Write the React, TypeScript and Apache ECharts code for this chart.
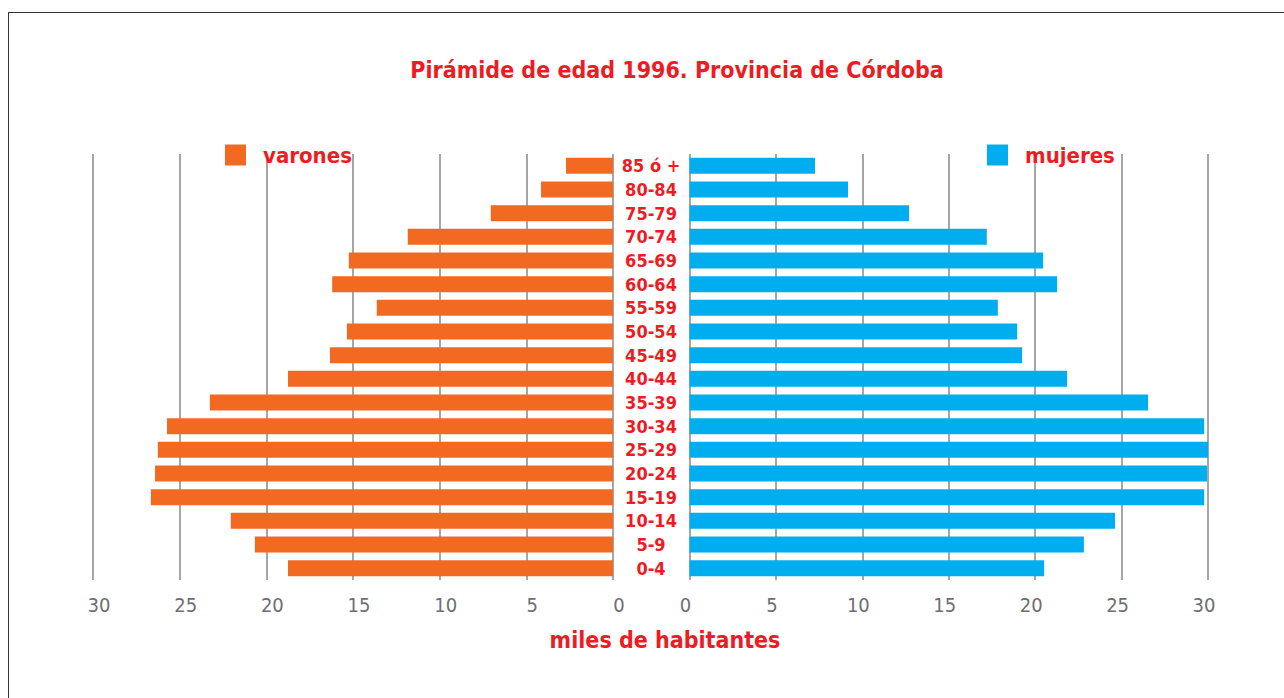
import React, { useEffect, useRef } from 'react';
import * as echarts from 'echarts';

const categories = ['0-4', '5-9', '10-14', '15-19', '20-24', '25-29', '30-34', '35-39', '40-44', '45-49', '50-54', '55-59', '60-64', '65-69', '70-74', '75-79', '80-84', '85 ó +'];
const varones = [18.75, 20.66, 22.05, 26.66, 26.42, 26.26, 25.73, 23.26, 18.75, 16.33, 15.35, 13.63, 16.2, 15.24, 11.84, 7.05, 4.15, 2.71];
const mujeres = [20.52, 22.82, 24.62, 29.78, 29.94, 30, 29.78, 26.53, 21.85, 19.24, 18.96, 17.84, 21.27, 20.46, 17.2, 12.7, 9.17, 7.26];
const titleText = 'Pirámide de edad 1996. Provincia de Córdoba';
const axisName = 'miles de habitantes';
const seriesNames = ['varones', 'mujeres'];

const FONT = "'DejaVu Sans Condensed', 'Liberation Sans Narrow', 'DejaVu Sans', sans-serif";
const RED = '#ED1C24';
const ORANGE = '#F26922';
const BLUE = '#00AEEF';
const GRID = '#A6A6A6';
const TICK = '#6D6E71';

export default function App() {
  const ref = useRef<HTMLDivElement>(null);
  useEffect(() => {
    document.body.style.margin = '0';
    if (!ref.current) return;
    const chart = echarts.init(ref.current, null, { renderer: 'svg' });
    const xAxisCommon = {
      type: 'value',
      min: 0,
      max: 30,
      interval: 5,
      axisLine: { show: false },
      axisTick: { show: false },
      splitLine: { show: true, lineStyle: { color: GRID, width: 2 } },
    };
    const legendCommon = {
      orient: 'horizontal',
      top: 139,
      itemWidth: 21,
      itemHeight: 21,
      icon: 'rect',
      selectedMode: false,
      textStyle: { color: RED, fontWeight: 'bold', fontSize: 22, fontFamily: FONT, padding: [0, 0, 0, 12] },
    };
    chart.setOption({
      animation: false,
      textStyle: { fontFamily: FONT },
      legend: [
        { ...legendCommon, left: 220, data: [seriesNames[0]] },
        { ...legendCommon, left: 982, data: [seriesNames[1]] },
      ],
      grid: [
        { left: 93, width: 520, top: 154, height: 426 },
        { left: 689.5, width: 518.5, top: 154, height: 426 },
      ],
      xAxis: [
        {
          ...xAxisCommon,
          gridIndex: 0,
          inverse: true,
          axisLabel: { color: TICK, fontSize: 20, margin: 15, fontFamily: FONT, padding: [0, 0, 0, 12] },
        },
        {
          ...xAxisCommon,
          gridIndex: 1,
          axisLabel: { color: TICK, fontSize: 20, margin: 15, fontFamily: FONT, padding: [0, 8, 0, 0] },
        },
      ],
      yAxis: [
        {
          type: 'category',
          gridIndex: 0,
          data: categories,
          position: 'right',
          axisLine: { show: false },
          axisTick: { show: false },
          axisLabel: { color: RED, fontWeight: 'bold', fontSize: 18, align: 'center', margin: 38, fontFamily: FONT },
        },
        {
          type: 'category',
          gridIndex: 1,
          data: categories,
          axisLine: { show: false },
          axisTick: { show: false },
          axisLabel: { show: false },
        },
      ],
      series: [
        {
          name: seriesNames[0],
          type: 'bar',
          xAxisIndex: 0,
          yAxisIndex: 0,
          data: varones,
          barWidth: 16,
          itemStyle: { color: ORANGE },
        },
        {
          name: seriesNames[1],
          type: 'bar',
          xAxisIndex: 1,
          yAxisIndex: 1,
          data: mujeres,
          barWidth: 16,
          itemStyle: { color: BLUE },
        },
      ],
      graphic: [
        { type: 'line', shape: { x1: 8, y1: 12.5, x2: 1284, y2: 12.5 }, style: { stroke: '#333', lineWidth: 1 } },
        { type: 'line', shape: { x1: 8.5, y1: 12, x2: 8.5, y2: 698 }, style: { stroke: '#333', lineWidth: 1 } },
        {
          type: 'text',
          x: 677,
          y: 70,
          style: { text: titleText, fill: RED, font: `bold 23px ${FONT}`, textAlign: 'center', textVerticalAlign: 'middle' },
        },
        {
          type: 'text',
          x: 665,
          y: 640,
          style: { text: axisName, fill: RED, font: `bold 23px ${FONT}`, textAlign: 'center', textVerticalAlign: 'middle' },
        },
      ],
    });
    return () => chart.dispose();
  }, []);
  return <div ref={ref} style={{ width: 1284, height: 698 }} />;
}
